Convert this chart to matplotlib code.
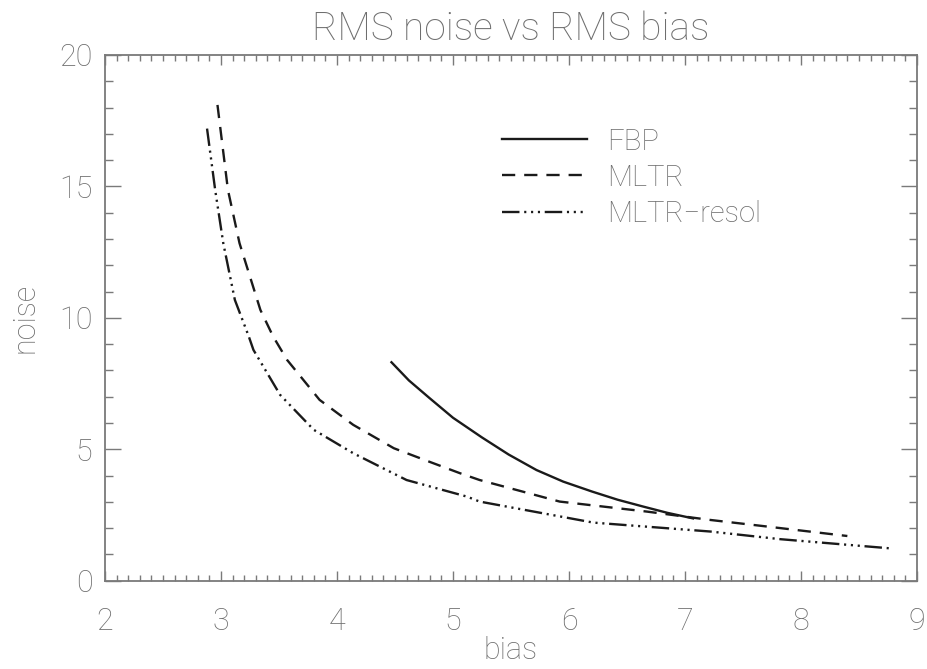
import matplotlib
matplotlib.use("Agg")
import matplotlib.pyplot as plt
from matplotlib.ticker import MultipleLocator

# values
fbp_bias = [4.47, 4.62, 4.80, 5.00, 5.25, 5.48, 5.72, 5.95, 6.20, 6.42, 6.64, 6.85, 7.07]
fbp_noise = [8.31, 7.62, 6.94, 6.20, 5.45, 4.80, 4.21, 3.77, 3.39, 3.08, 2.82, 2.58, 2.37]

mltr_bias = [2.97, 3.06, 3.16, 3.34, 3.45, 3.57, 3.85, 4.14, 4.49, 4.80, 5.06, 5.23,
             5.92, 6.67, 7.22, 7.67, 8.40]
mltr_noise = [18.1, 14.87, 12.84, 10.3, 9.29, 8.40, 6.88, 5.93, 5.04, 4.52, 4.09, 3.83,
              3.01, 2.63, 2.31, 2.08, 1.70]

resol_bias = [2.88, 2.95, 3.02, 3.12, 3.24, 3.28, 3.51, 3.80, 4.14, 4.60, 5.12,
              5.23, 6.21, 7.22, 7.82, 8.77]
resol_noise = [17.2, 14.87, 12.84, 10.68, 9.29, 8.78, 7.07, 5.74, 4.85, 3.83, 3.20,
               3.01, 2.21, 1.87, 1.58, 1.23]

grey = "#7a7a7a"
txt = "#6e6e6e"
ink = "#1a1a1a"

plt.rcParams['font.family'] = ['Roboto', 'DejaVu Sans']
plt.rcParams['font.weight'] = 'light'
plt.rcParams['axes.titleweight'] = 'light'
plt.rcParams['axes.labelweight'] = 'light'

fig = plt.figure(figsize=(9.28, 6.69), dpi=100)
ax = fig.add_axes([0.1131, 0.132, 0.875, 0.7858])

ax.plot(fbp_bias, fbp_noise, color=ink, lw=1.7, linestyle="-", label="FBP")
ax.plot(mltr_bias, mltr_noise, color=ink, lw=1.7, linestyle=(0, (5.6, 3.8)), label="MLTR")
ax.plot(resol_bias, resol_noise, color=ink, lw=1.7,
        linestyle=(0, (7.4, 2.0, 0.9, 2.0, 0.9, 2.0, 0.9, 2.0)), label="MLTR\u2212resol")

ax.set_xlim(2, 9)
ax.set_ylim(0, 20)
ax.xaxis.set_major_locator(MultipleLocator(1))
ax.xaxis.set_minor_locator(MultipleLocator(0.1))
ax.yaxis.set_major_locator(MultipleLocator(5))
ax.yaxis.set_minor_locator(MultipleLocator(1))

for s in ax.spines.values():
    s.set_color(grey)
    s.set_linewidth(1.3)

ax.tick_params(axis="both", which="both", direction="in", top=True, right=True,
               colors=grey, labelcolor=txt, labelsize=22, width=1.0)
ax.tick_params(axis="x", which="major", length=7.2, pad=19)
ax.tick_params(axis="x", which="minor", length=4.3)
ax.tick_params(axis="y", which="major", length=11.5, pad=9)
ax.tick_params(axis="y", which="minor", length=5.8)

ax.set_xlabel("bias", fontsize=22, color=txt, labelpad=0)
ax.set_ylabel("noise", fontsize=22, color=txt, labelpad=14)
ax.set_title("RMS noise vs RMS bias", fontsize=28, color=txt, pad=11)

leg = ax.legend(frameon=False, loc="upper left", bbox_to_anchor=(0.457, 0.912),
                fontsize=21, handlelength=2.9, handletextpad=0.7, labelspacing=0.28)
for t in leg.get_texts():
    t.set_color(txt)

fig.savefig("out.png", dpi=100)
